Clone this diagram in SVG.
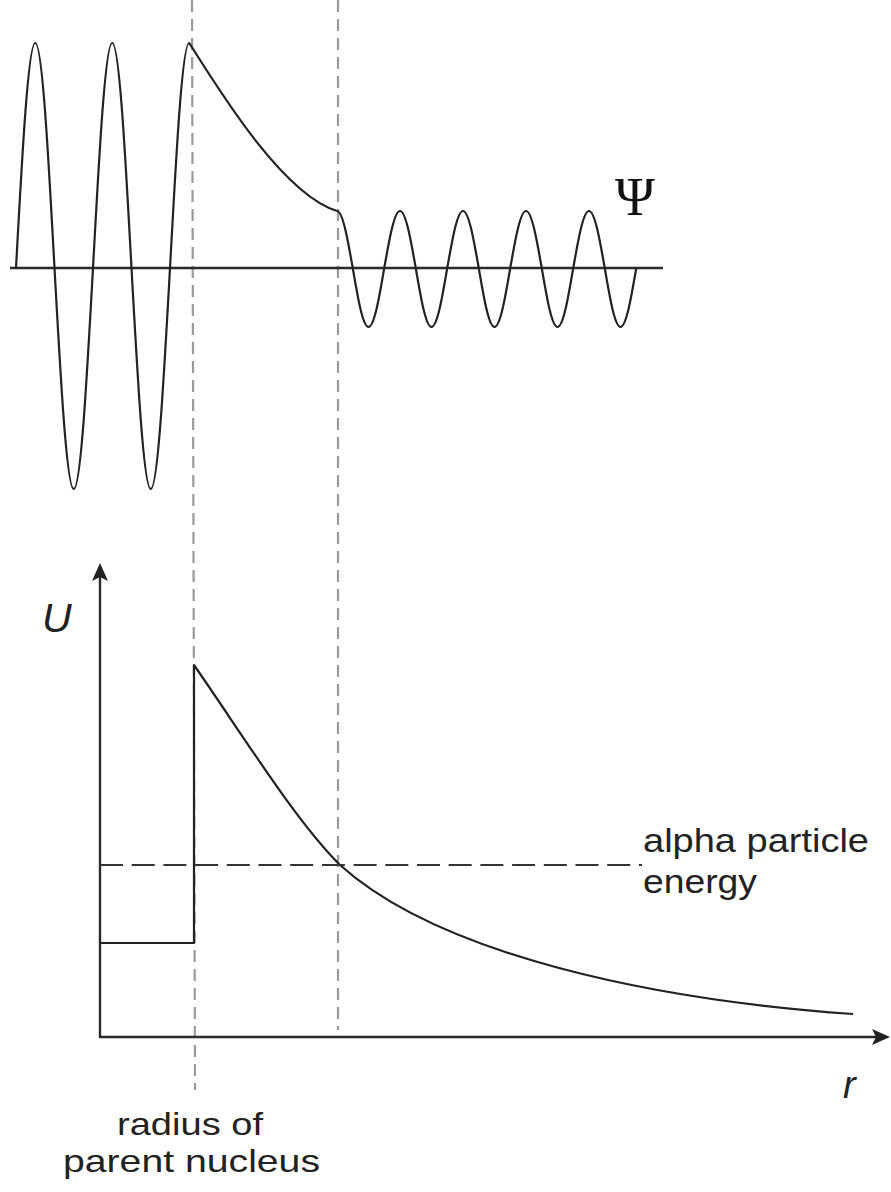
<svg xmlns="http://www.w3.org/2000/svg" width="891" height="1192" viewBox="0 0 891 1192">
<style>
.curve{fill:none;stroke:#222;stroke-width:2.2;stroke-linejoin:round}
.axis{fill:none;stroke:#2a2a2a;stroke-width:2.4}
.guide{fill:none;stroke:#9a9a9a;stroke-width:2.2;stroke-dasharray:12 7}
.energy{fill:none;stroke:#333;stroke-width:2;stroke-dasharray:23 8.7}
.lbl{font-family:"Liberation Sans",Arial,sans-serif;font-size:34px;fill:#222}
.lbl2{font-family:"Liberation Sans",Arial,sans-serif;font-size:32px;fill:#222}
.it{font-family:"Liberation Sans",Arial,sans-serif;font-style:italic;fill:#222}
.head{fill:#222;stroke:none}
</style>
<rect width="891" height="1192" fill="#fff"/>
<g id="guides">
<line class="guide" x1="192" y1="0" x2="195" y2="1090"/>
<line class="guide" x1="338" y1="0" x2="338" y2="1030"/>
</g>
<g id="wavefunction">
<line class="axis" x1="10" y1="268" x2="663" y2="268"/>
<path class="curve" d="M16,268
c 6.28,-115.27 12.28,-225 19.25,-225
c 6.97,0 12.97,109.73 19.25,225
c 6.28,113.22 12.28,221 19.25,221
c 6.97,0 12.97,-107.78 19.25,-221
c 6.28,-115.27 12.28,-225 19.25,-225
c 6.97,0 12.97,109.73 19.25,225
c 6.28,113.22 12.28,221 19.25,221
c 6.97,0 12.97,-107.78 19.25,-221
c 6.28,-115.27 12.28,-225 19.25,-225
C 225,100 285,195 337,211
c 5.70,0 10.61,27.80 15.75,57 c 5.14,30.23 10.05,59 15.75,59 c 5.70,0 10.61,-28.77 15.75,-59 c 5.14,-29.20 10.05,-57 15.75,-57
c 5.70,0 10.61,27.80 15.75,57 c 5.14,30.23 10.05,59 15.75,59 c 5.70,0 10.61,-28.77 15.75,-59 c 5.14,-29.20 10.05,-57 15.75,-57
c 5.70,0 10.61,27.80 15.75,57 c 5.14,30.23 10.05,59 15.75,59 c 5.70,0 10.61,-28.77 15.75,-59 c 5.14,-29.20 10.05,-57 15.75,-57
c 5.70,0 10.61,27.80 15.75,57 c 5.14,30.23 10.05,59 15.75,59 c 5.70,0 10.61,-28.77 15.75,-59 c 5.14,-29.20 10.05,-57 15.75,-57
c 5.70,0 10.61,27.80 15.75,57 c 5.14,30.23 10.05,59 15.75,59 c 5.70,0 10.61,-28.77 15.75,-59"/>
<text x="615" y="215" font-family="'Liberation Serif','Times New Roman',serif" font-size="54" fill="#111">Ψ</text>
</g>
<g id="axes">
<line class="axis" x1="100" y1="1037" x2="100" y2="575"/>
<path class="head" d="M100,563 L108,581 L100,577 L92,581 Z"/>
<line class="axis" x1="99" y1="1037" x2="878" y2="1037"/>
<path class="head" d="M890,1037 L872,1029 L876,1037 L872,1045 Z"/>
<text class="it" x="42" y="632" font-size="41">U</text>
<text class="it" x="843" y="1098" font-size="38">r</text>
</g>
<g id="potential">
<path class="curve" d="M100,943 L194,943 L194,665 C 244,737 295,820 340,865 C 440,955 653,1000 853,1014"/>
</g>
<g id="energy">
<line class="energy" x1="100" y1="865" x2="642" y2="865"/>
<text class="lbl" x="643" y="852" textLength="226" lengthAdjust="spacingAndGlyphs">alpha particle</text>
<text class="lbl" x="643" y="893" textLength="114" lengthAdjust="spacingAndGlyphs">energy</text>
</g>
<g id="radius-label">
<text class="lbl2" x="117" y="1135" textLength="146" lengthAdjust="spacingAndGlyphs">radius of</text>
<text class="lbl2" x="63" y="1172" textLength="257" lengthAdjust="spacingAndGlyphs">parent nucleus</text>
</g>
</svg>
